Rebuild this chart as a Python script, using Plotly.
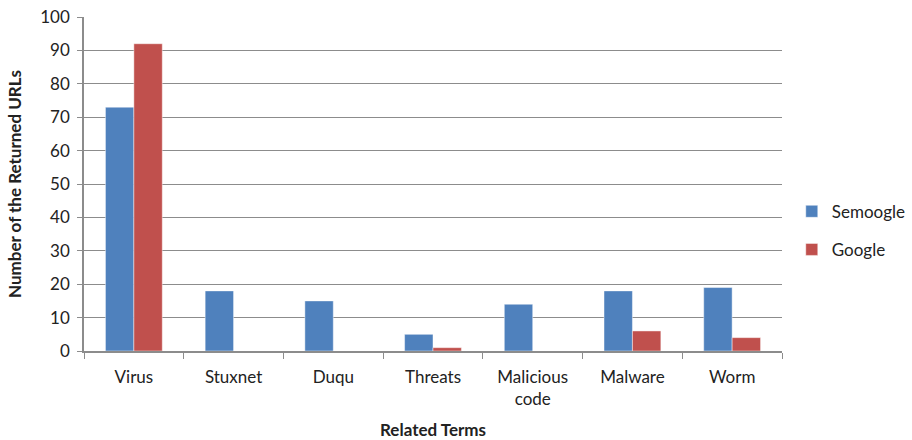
import plotly.graph_objects as go

# Related search terms and the number of URLs each engine returned
terms = ["Virus", "Stuxnet", "Duqu", "Threats", "Malicious<br>code", "Malware", "Worm"]
semoogle = [73, 18, 15, 5, 14, 18, 19]
google = [92, 0, 0, 1, 0, 6, 4]

FONT = "Lato, 'Open Sans', sans-serif"
GRID = "#8c8c8c"

fig = go.Figure()
fig.add_trace(go.Bar(
    x=terms, y=semoogle, name="Semoogle", legendgroup="s",
    marker=dict(color="#4F81BD", line=dict(color="rgba(255,255,255,0.45)", width=1)),
))
fig.add_trace(go.Bar(
    x=terms, y=google, name="Google", legendgroup="g",
    marker=dict(color="#C0504D", line=dict(color="rgba(255,255,255,0.45)", width=1)),
))

fig.update_layout(
    width=912, height=440,
    margin=dict(l=84, r=130, t=17, b=89, autoexpand=False),
    paper_bgcolor="white", plot_bgcolor="white",
    barmode="group", bargap=0.43, bargroupgap=0,
    font=dict(family=FONT, size=17, color="#222222"),
    showlegend=True,
    legend=dict(
        x=1.014, xanchor="left", y=0.36, yanchor="middle",
        traceorder="grouped", tracegroupgap=13,
        font=dict(size=17), itemwidth=30,
    ),
    xaxis=dict(
        type="category", showline=True, linecolor=GRID, linewidth=1.5,
        ticks="outside", tickson="boundaries", ticklen=6, tickcolor=GRID,
        showgrid=False, automargin=False, ticklabelstandoff=10,
        title=dict(text="<b>Related Terms</b>", font=dict(size=17), standoff=26),
    ),
    yaxis=dict(
        range=[0, 100], dtick=10, showline=True, linecolor=GRID, linewidth=1.5,
        ticks="outside", ticklen=5, tickcolor=GRID, automargin=False,
        showgrid=True, gridcolor=GRID, gridwidth=1, zeroline=False,
        ticklabelstandoff=4,
        title=dict(text="<b>Number of the Returned URLs</b>", font=dict(size=17), standoff=14),
    ),
)

fig.write_html("out.html")
